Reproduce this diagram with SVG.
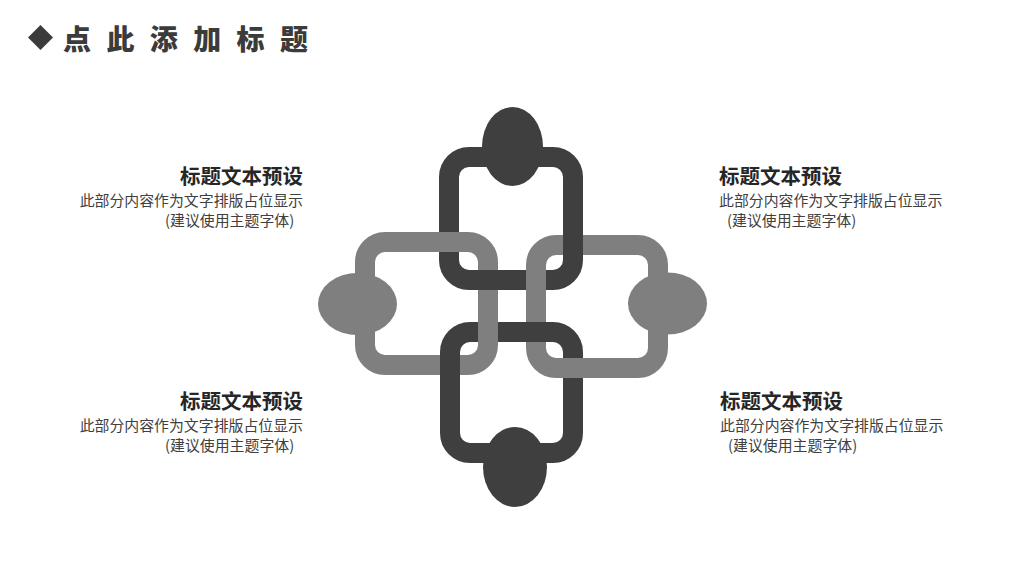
<svg xmlns="http://www.w3.org/2000/svg" width="1024" height="576" viewBox="0 0 1024 576">
  <style>
    .dk { fill: none; stroke: #3f3f3f; stroke-width: 20; }
    .gr { fill: none; stroke: #7f7f7f; stroke-width: 20; }
    .dkf { fill: #3f3f3f; }
    .grf { fill: #7f7f7f; }
    .h { font-family: "Noto Sans CJK SC", "Noto Sans", sans-serif; font-weight: bold; font-size: 20.5px; fill: #262626; }
    .b { font-family: "Noto Sans CJK SC", "Noto Sans", sans-serif; font-size: 14.9px; fill: #404040; }
    .title { font-family: "Noto Sans CJK SC", "Noto Sans", sans-serif; font-weight: 900; font-size: 28px; fill: #3b3b3b; letter-spacing: 15.4px; }
  </style>
  <rect width="1024" height="576" fill="#ffffff"/>

  <g id="header">
    <polygon points="40.5,25 53,37.5 40.5,50 28,37.5" fill="#3b3b3b"/>
    <text class="title" x="63" y="50">点此添加标题</text>
  </g>

  <g id="link-top">
    <rect class="dk" x="449" y="157" width="124" height="123" rx="20"/>
    <ellipse class="dkf" cx="512.5" cy="146.5" rx="30.5" ry="39.5"/>
  </g>
  <g id="link-bottom">
    <rect class="dk" x="450" y="332" width="123" height="121" rx="20"/>
    <ellipse class="dkf" cx="515" cy="467" rx="32" ry="40"/>
  </g>
  <g id="link-left">
    <rect class="gr" x="365" y="242" width="123" height="123" rx="20"/>
    <ellipse class="grf" cx="357.5" cy="304" rx="39.5" ry="31"/>
  </g>
  <g id="link-right">
    <rect class="gr" x="536" y="245" width="122" height="123" rx="20"/>
    <ellipse class="grf" cx="667.5" cy="303.5" rx="39.5" ry="31"/>
  </g>
  <g id="interlock">
    <rect class="dkf" x="476" y="270" width="24" height="20"/>
    <rect class="dkf" x="563" y="233" width="20" height="24"/>
    <rect class="dkf" x="440" y="353" width="20" height="24"/>
    <rect class="dkf" x="524" y="322" width="24" height="20"/>
  </g>

  <g id="text-top-left">
    <text class="h" x="303" y="184" text-anchor="end">标题文本预设</text>
    <text class="b" x="303" y="206" text-anchor="end">此部分内容作为文字排版占位显示</text>
    <text class="b" x="165" y="226">(建议使用主题字体)</text>
  </g>
  <g id="text-top-right">
    <text class="h" x="719" y="184">标题文本预设</text>
    <text class="b" x="719" y="206">此部分内容作为文字排版占位显示</text>
    <text class="b" x="727" y="226">(建议使用主题字体)</text>
  </g>
  <g id="text-bottom-left">
    <text class="h" x="303" y="409" text-anchor="end">标题文本预设</text>
    <text class="b" x="303" y="431" text-anchor="end">此部分内容作为文字排版占位显示</text>
    <text class="b" x="165" y="451">(建议使用主题字体)</text>
  </g>
  <g id="text-bottom-right">
    <text class="h" x="720" y="409">标题文本预设</text>
    <text class="b" x="720" y="431">此部分内容作为文字排版占位显示</text>
    <text class="b" x="728" y="451">(建议使用主题字体)</text>
  </g>
</svg>
